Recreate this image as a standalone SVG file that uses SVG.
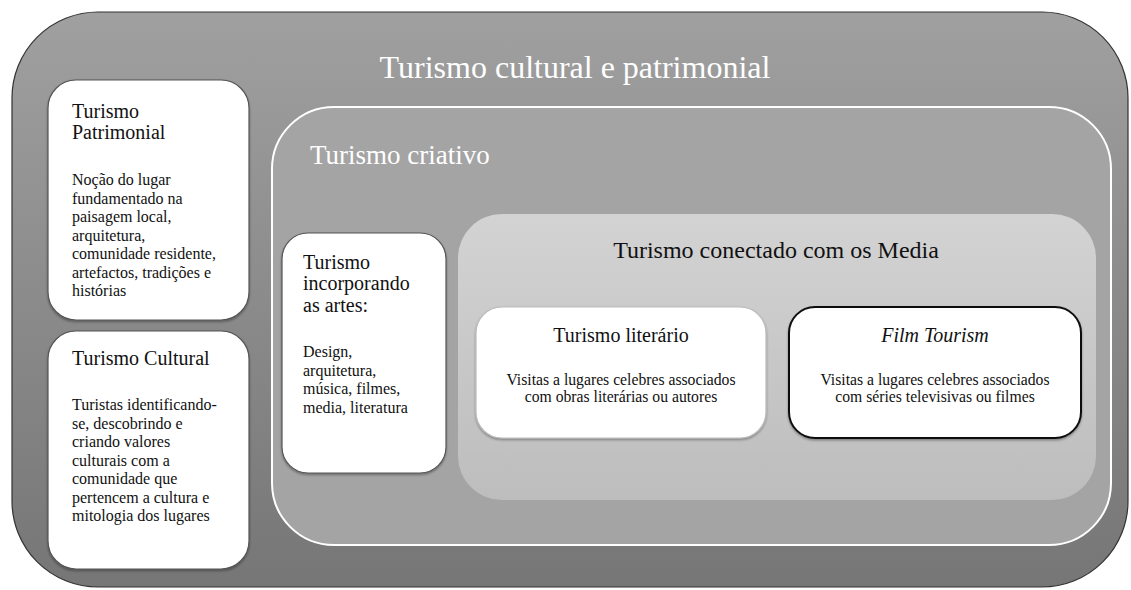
<svg xmlns="http://www.w3.org/2000/svg" width="1131" height="590" viewBox="0 0 1131 590">
<style>
text{font-family:"Liberation Serif","Times New Roman",serif;fill:#111}
.ttl{font-size:20px}
.body{font-size:16px}
.sm{font-size:15.7px}
.wt{fill:#fff}
.mid{text-anchor:middle}
.card{fill:#fff;stroke:#555;stroke-width:1.2}
</style>
<defs>
<linearGradient id="gOuter" x1="0" y1="0" x2="0" y2="1">
<stop offset="0" stop-color="#a0a0a0"/>
<stop offset="1" stop-color="#767676"/>
</linearGradient>
<linearGradient id="gMedia" x1="0" y1="0" x2="0" y2="1">
<stop offset="0" stop-color="#d3d3d3"/>
<stop offset="1" stop-color="#bdbdbd"/>
</linearGradient>
<filter id="sh" x="-5%" y="-5%" width="110%" height="115%">
<feDropShadow dx="0" dy="1.5" stdDeviation="1.2" flood-color="#000" flood-opacity="0.35"/>
</filter>
</defs>

<g id="outer">
<rect x="12" y="12" width="1116" height="575" rx="86" ry="86" fill="url(#gOuter)" stroke="#333" stroke-width="1.2"/>
<text class="wt mid" x="575" y="78" font-size="32">Turismo cultural e patrimonial</text>
</g>

<g id="patrimonial">
<rect class="card" x="48" y="80" width="201" height="240" rx="28" ry="28" filter="url(#sh)"/>
<text class="ttl" x="72" y="118">Turismo</text>
<text class="ttl" x="72" y="139">Patrimonial</text>
<text class="body" x="72" y="185">Noção do lugar</text>
<text class="body" x="72" y="203.5">fundamentado na</text>
<text class="body" x="72" y="222">paisagem local,</text>
<text class="body" x="72" y="240.5">arquitetura,</text>
<text class="body" x="72" y="259">comunidade residente,</text>
<text class="body" x="72" y="277.5">artefactos, tradições e</text>
<text class="body" x="72" y="296">histórias</text>
</g>

<g id="cultural">
<rect class="card" x="48" y="331" width="201" height="238" rx="28" ry="28" filter="url(#sh)"/>
<text class="ttl" x="72" y="365">Turismo Cultural</text>
<text class="body" x="72" y="410">Turistas identificando-</text>
<text class="body" x="72" y="428.5">se, descobrindo e</text>
<text class="body" x="72" y="447">criando valores</text>
<text class="body" x="72" y="465.5">culturais com a</text>
<text class="body" x="72" y="484">comunidade que</text>
<text class="body" x="72" y="502.5">pertencem a cultura e</text>
<text class="body" x="72" y="521">mitologia dos lugares</text>
</g>

<g id="criativo">
<rect x="272" y="107" width="839" height="438" rx="62" ry="62" fill="#a4a4a4" stroke="#fff" stroke-width="2"/>
<text class="wt" x="310" y="164" font-size="27">Turismo criativo</text>
</g>

<g id="artes">
<rect class="card" x="282" y="233" width="164" height="240" rx="26" ry="26" filter="url(#sh)"/>
<text class="ttl" x="303" y="269">Turismo</text>
<text class="ttl" x="303" y="290">incorporando</text>
<text class="ttl" x="303" y="312">as artes:</text>
<text class="body" x="303" y="357">Design,</text>
<text class="body" x="303" y="375.5">arquitetura,</text>
<text class="body" x="303" y="394">música, filmes,</text>
<text class="body" x="303" y="412.5">media, literatura</text>
</g>

<g id="media">
<rect x="458" y="214" width="638" height="286" rx="44" ry="44" fill="url(#gMedia)"/>
<text class="mid" x="776" y="258" font-size="24">Turismo conectado com os Media</text>
</g>

<g id="literario">
<rect x="476" y="307" width="290" height="131" rx="26" ry="26" fill="#fff" stroke="#bbb" stroke-width="1.2" filter="url(#sh)"/>
<text class="ttl mid" x="621" y="342">Turismo literário</text>
<text class="sm mid" x="621" y="385">Visitas a lugares celebres associados</text>
<text class="sm mid" x="621" y="402">com obras literárias ou autores</text>
</g>

<g id="film">
<rect x="789" y="307" width="292" height="131" rx="26" ry="26" fill="#fff" stroke="#111" stroke-width="2" filter="url(#sh)"/>
<text class="ttl mid" x="935" y="342" font-style="italic">Film Tourism</text>
<text class="sm mid" x="935" y="385">Visitas a lugares celebres associados</text>
<text class="sm mid" x="935" y="402">com séries televisivas ou filmes</text>
</g>

<g id="connectors"></g>
</svg>
